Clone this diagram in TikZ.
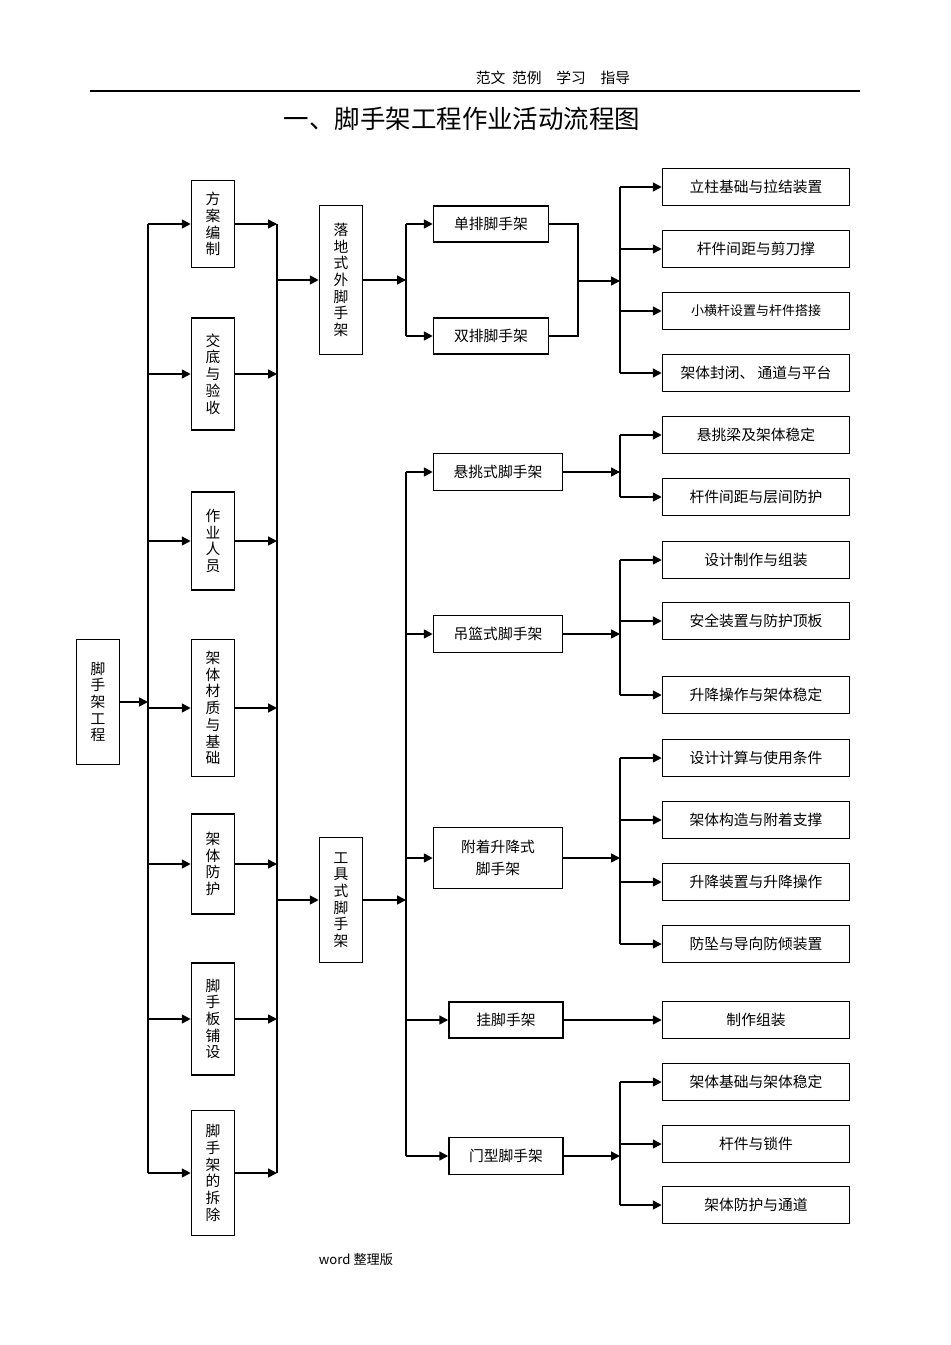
\documentclass[tikz,border=0pt]{standalone}
\usepackage{fontspec}
\setmainfont{Noto Sans CJK SC}
\usetikzlibrary{arrows.meta, positioning}

\begin{document}
\begin{tikzpicture}[x=0.02cm,y=-0.02cm,
    font=\fontsize{8.4}{9.5}\selectfont,
    box/.style={draw, rectangle, line width=0.9pt, inner sep=1pt, align=center},
    vbox/.style={box, minimum width=0.86cm},
    hbox/.style={box, minimum width=3.74cm, minimum height=0.74cm},
    arr/.style={-{Triangle[length=5pt,width=5pt]}, line width=0.9pt}]
    \useasboundingbox (0,0) rectangle (950,1345);
    % Header
    \node (hd) at (553,78) {范文\ \ 范例\quad 学习\quad 指导};
    \coordinate (hl) at (90,91);
    \coordinate (hr) at (860,91);
    \draw[line width=0.6pt] (hl) -- (hr);
    \node (title) at (462,119) {\fontsize{14.5}{16}\selectfont 一、脚手架工程作业活动流程图};
    \node (foot) at (356,1259) {\fontsize{7.5}{9}\selectfont word\ 整理版};

    % Nodes
    \node (root) [vbox, minimum height=2.5cm] at (98,702) {脚\\手\\架\\工\\程};
    \node (c1) [vbox, minimum height=1.74cm] at (213,224) {方\\案\\编\\制};
    \node (c2) [vbox, minimum height=2.24cm] at (213,374) {交\\底\\与\\验\\收};
    \node (c3) [vbox, minimum height=1.96cm] at (213,541) {作\\业\\人\\员};
    \node (c4) [vbox, minimum height=2.74cm] at (213,708) {架\\体\\材\\质\\与\\基\\础};
    \node (c5) [vbox, minimum height=2.0cm] at (213,864) {架\\体\\防\\护};
    \node (c6) [vbox, minimum height=2.24cm] at (213,1019) {脚\\手\\板\\铺\\设};
    \node (c7) [vbox, minimum height=2.5cm] at (213,1173) {脚\\手\\架\\的\\拆\\除};
    \node (ld) [vbox, minimum height=2.98cm] at (341,280) {落\\地\\式\\外\\脚\\手\\架};
    \node (gj) [vbox, minimum height=2.5cm] at (341,900) {工\\具\\式\\脚\\手\\架};
    \node (dp) [box, minimum width=2.3cm, minimum height=0.72cm] at (491,224) {单排脚手架};
    \node (sp) [box, minimum width=2.3cm, minimum height=0.72cm] at (491,336) {双排脚手架};
    \node (xt) [box, minimum width=2.58cm, minimum height=0.74cm] at (498,472) {悬挑式脚手架};
    \node (dl) [box, minimum width=2.58cm, minimum height=0.74cm] at (498,634) {吊篮式脚手架};
    \node (fz) [box, minimum width=2.58cm, minimum height=1.22cm] at (498,858) {附着升降式\\[3pt]脚手架};
    \node (gs) [box, minimum width=2.28cm, minimum height=0.72cm] at (506,1020) {挂脚手架};
    \node (mx) [box, minimum width=2.28cm, minimum height=0.74cm] at (506,1156) {门型脚手架};
    \node (r1) [hbox] at (756,187) {立柱基础与拉结装置};
    \node (r2) [hbox] at (756,249) {杆件间距与剪刀撑};
    \node (r3) [hbox] at (756,311) {\fontsize{7.4}{9}\selectfont 小横杆设置与杆件搭接};
    \node (r4) [hbox] at (756,373) {架体封闭、\ 通道与平台};
    \node (r5) [hbox] at (756,435) {悬挑梁及架体稳定};
    \node (r6) [hbox] at (756,497) {杆件间距与层间防护};
    \node (r7) [hbox] at (756,560) {设计制作与组装};
    \node (r8) [hbox] at (756,621) {安全装置与防护顶板};
    \node (r9) [hbox] at (756,695) {升降操作与架体稳定};
    \node (r10) [hbox] at (756,758) {设计计算与使用条件};
    \node (r11) [hbox] at (756,820) {架体构造与附着支撑};
    \node (r12) [hbox] at (756,882) {升降装置与升降操作};
    \node (r13) [hbox] at (756,944) {防坠与导向防倾装置};
    \node (r14) [hbox] at (756,1020) {制作组装};
    \node (r15) [hbox] at (756,1082) {架体基础与架体稳定};
    \node (r16) [hbox] at (756,1144) {杆件与锁件};
    \node (r17) [hbox] at (756,1205) {架体防护与通道};

    % Buses
    \coordinate (lb) at (148,702);
    \coordinate (rb) at (277,702);
    \coordinate (mb) at (406,600);
    \coordinate (sb) at (578,281);
    \coordinate (fb) at (620,281);
    \draw[line width=0.9pt] (lb |- c1) -- (lb |- c7);
    \draw[line width=0.9pt] (rb |- c1) -- (rb |- c7);
    \draw[line width=0.9pt] (mb |- dp) -- (mb |- sp);
    \draw[line width=0.9pt] (mb |- xt) -- (mb |- mx);
    \draw[line width=0.9pt] (dp.east) -| (sb) |- (sp.east);
    \draw[line width=0.9pt] (fb |- r1) -- (fb |- r4);
    \draw[line width=0.9pt] (fb |- r5) -- (fb |- r6);
    \draw[line width=0.9pt] (fb |- r7) -- (fb |- r9);
    \draw[line width=0.9pt] (fb |- r10) -- (fb |- r13);
    \draw[line width=0.9pt] (fb |- r15) -- (fb |- r17);

    % Connections
    \draw[arr] (root) -- (lb);
    \foreach \c in {c1,c2,c3,c4,c5,c6,c7} {
        \draw[arr] (lb |- \c) -- (\c);
        \draw[arr] (\c) -- (rb |- \c);
    }
    \draw[arr] (rb |- ld) -- (ld);
    \draw[arr] (rb |- gj) -- (gj);
    \draw[arr] (ld) -- (mb |- ld);
    \draw[arr] (gj) -- (mb |- gj);
    \foreach \c in {dp,sp,xt,dl,fz,gs,mx}
        \draw[arr] (mb |- \c) -- (\c);
    \draw[arr] (sb) -- (fb);
    \draw[arr] (xt) -- (fb |- xt);
    \draw[arr] (dl) -- (fb |- dl);
    \draw[arr] (fz) -- (fb |- fz);
    \draw[arr] (gs) -- (r14);
    \draw[arr] (mx) -- (fb |- mx);
    \foreach \r in {r1,r2,r3,r4,r5,r6,r7,r8,r9,r10,r11,r12,r13,r15,r16,r17}
        \draw[arr] (fb |- \r) -- (\r);
\end{tikzpicture}
\end{document}
